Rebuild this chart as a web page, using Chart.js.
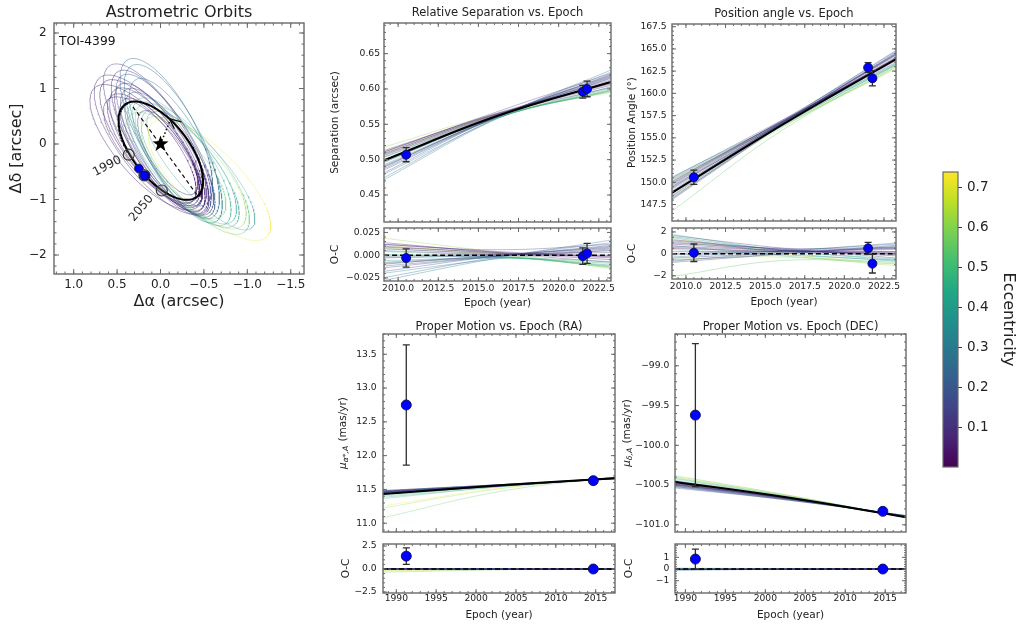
<!DOCTYPE html>
<html>
<head>
<meta charset="utf-8">
<title>TOI-4399 astrometric orbit fit</title>
<script src="https://cdn.jsdelivr.net/npm/chart.js@4.4.1/dist/chart.umd.min.js"></script>
<style>
  html, body { margin: 0; padding: 0; background: #ffffff; }
  #wrap { position: relative; width: 1023px; height: 630px; overflow: hidden; background: #ffffff; }
  #wrap canvas { position: absolute; left: 0; top: 0; }
</style>
</head>
<body>
<div id="wrap"></div>
<script>
// ---------------- data ----------------
// eccentricity of each posterior draw (sets its colour)
const SAMPLE_ECC = [0.10, 0.06, 0.14, 0.24, 0.09, 0.04, 0.17, 0.12, 0.28, 0.07, 0.15, 0.05, 0.33,
                    0.11, 0.13, 0.20, 0.08, 0.40, 0.50, 0.45, 0.55, 0.36, 0.42, 0.73, 0.62];
const ECC_MIN = 0.0, ECC_MAX = 0.74;
const ECC_TICKS = [0.1, 0.2, 0.3, 0.4, 0.5, 0.6, 0.7];

// projected orbits: ends of the long axis (Δα, Δδ) and half width [arcsec]
const ORBIT_SAMPLES = [
  [0.700, 1.195, -0.488, -1.220, 0.559], [0.758, 1.014, -0.430, -1.130, 0.541],
  [0.585, 1.411, -0.511, -1.256, 0.541], [0.377, 1.519, -0.511, -1.094, 0.523],
  [0.492, 1.303, -0.453, -1.184, 0.505], [0.642, 1.123, -0.395, -1.076, 0.486],
  [0.446, 1.231, -0.546, -1.256, 0.486], [0.527, 0.978, -0.419, -1.112, 0.468],
  [0.331, 1.411, -0.592, -1.328, 0.523], [0.469, 1.068, -0.453, -1.202, 0.450],
  [0.400, 0.978, -0.499, -1.238, 0.450], [0.562, 0.870, -0.361, -1.040, 0.432],
  [0.285, 1.159, -0.638, -1.400, 0.486], [0.423, 0.798, -0.430, -1.094, 0.396],
  [0.216, 0.582, -0.384, -0.895, 0.324], [0.354, 0.906, -0.569, -1.292, 0.450],
  [0.608, 0.798, -0.396, -1.004, 0.468], [0.331, 0.726, -0.857, -1.454, 0.505],
  [0.239, 0.690, -0.972, -1.580, 0.523], [0.170, 0.582, -0.822, -1.400, 0.468],
  [0.354, 0.510, -0.707, -1.292, 0.486], [0.123, 0.546, -1.053, -1.508, 0.432],
  [0.262, 0.798, -0.753, -1.436, 0.486], [0.100, 0.366, -1.226, -1.670, 0.541],
  [0.170, 0.438, -0.938, -1.472, 0.505]
];
const BEST_ORBIT = [0.412, 0.708, -0.419, -0.950, 0.505];
const APSIDES = [[0.318, 0.670], [-0.419, -0.913]];
const NODE_LINE = [[0.0, 0.0], [-0.114, 0.436]];
const EPOCH_MARKS = [[0.366, -0.193], [0.185, -0.565], [-0.015, -0.838]];
const EPOCH_LABELS = ['1990', '2050'];
const TARGET = 'TOI-4399';

// relative astrometry
const REL_EPOCHS = [2010.5, 2021.5, 2021.77];
const SEP_VALUES = [0.507, 0.596, 0.600];
const SEP_ERRORS = [0.010, 0.009, 0.011];
const SEP_OC = [-0.003, -0.001, 0.002];
const PA_VALUES = [150.57, 162.9, 161.7];
const PA_ERRORS = [0.8, 0.55, 0.85];
const PA_OC = [0.1, 0.5, -0.9];

// model curves sampled at three epochs
const REL_MODEL_EPOCHS = [2009.0, 2016.2, 2023.4];
const SEP_BEST = [0.498, 0.562, 0.611];
const SEP_SAMPLES = [
  [0.490, 0.561, 0.618], [0.505, 0.564, 0.610], [0.484, 0.561, 0.622], [0.473, 0.560, 0.625],
  [0.495, 0.562, 0.616], [0.510, 0.566, 0.609], [0.480, 0.561, 0.620], [0.510, 0.568, 0.623],
  [0.470, 0.559, 0.628], [0.497, 0.563, 0.614], [0.488, 0.562, 0.619], [0.512, 0.565, 0.606],
  [0.478, 0.558, 0.617], [0.503, 0.563, 0.611], [0.508, 0.564, 0.603], [0.486, 0.561, 0.621],
  [0.507, 0.565, 0.608], [0.496, 0.560, 0.600], [0.502, 0.561, 0.598], [0.492, 0.559, 0.602],
  [0.506, 0.562, 0.597], [0.489, 0.559, 0.604], [0.499, 0.560, 0.599], [0.509, 0.563, 0.598],
  [0.517, 0.565, 0.596]
];
const PA_BEST = [148.7, 156.6, 164.0];
const PA_SAMPLES = [
  [148.3, 156.7, 164.6], [149.2, 156.8, 164.2], [147.9, 156.6, 164.8], [148.0, 156.8, 165.0],
  [148.9, 156.8, 164.4], [149.6, 156.9, 164.0], [148.1, 156.6, 164.7], [149.7, 157.1, 164.6],
  [148.4, 156.9, 164.9], [149.4, 156.9, 164.1], [148.6, 156.8, 164.5], [150.0, 157.0, 163.8],
  [149.8, 156.9, 164.0], [149.3, 156.8, 164.2], [150.4, 157.1, 163.6], [148.7, 156.9, 164.5],
  [149.9, 157.0, 163.9], [150.2, 156.7, 163.3], [149.5, 156.4, 163.2], [150.5, 156.9, 163.4],
  [146.6, 156.0, 163.1], [150.3, 156.9, 163.5], [149.1, 156.5, 163.4], [150.1, 156.6, 163.0],
  [148.2, 156.3, 162.9]
];

// Hipparcos-Gaia proper motions
const PM_EPOCHS = [1991.25, 2014.7];
const PMRA_VALUES = [12.75, 11.63];
const PMRA_ERRORS = [0.89, 0.02];
const PMRA_OC = [1.4, 0.0];
const PMRA_OC_ERRORS = [0.89, 0.02];
const PMDEC_VALUES = [-99.62, -100.83];
const PMDEC_ERRORS = [0.90, 0.02];
const PMDEC_OC = [0.85, 0.0];
const PMDEC_OC_ERRORS = [0.85, 0.02];

const PM_MODEL_EPOCHS = [1988.0, 2003.0, 2018.0];
const PMRA_BEST = [11.43, 11.56, 11.67];
const PMRA_SAMPLES = [
  [11.46, 11.56, 11.67], [11.47, 11.57, 11.66], [11.45, 11.56, 11.68], [11.48, 11.57, 11.66],
  [11.46, 11.56, 11.67], [11.45, 11.55, 11.67], [11.47, 11.57, 11.67], [11.44, 11.55, 11.68],
  [11.48, 11.57, 11.66], [11.46, 11.56, 11.67], [11.47, 11.56, 11.67], [11.43, 11.55, 11.68],
  [11.47, 11.56, 11.66], [11.45, 11.56, 11.67], [11.46, 11.56, 11.67], [11.48, 11.57, 11.66],
  [11.45, 11.55, 11.67], [11.42, 11.55, 11.67], [11.36, 11.54, 11.68], [11.40, 11.55, 11.67],
  [11.07, 11.47, 11.69], [11.44, 11.55, 11.67], [11.38, 11.54, 11.68], [11.25, 11.52, 11.69],
  [11.22, 11.51, 11.68]
];
const PMDEC_BEST = [-100.45, -100.66, -100.91];
const PMDEC_SAMPLES = [
  [-100.47, -100.67, -100.90], [-100.49, -100.68, -100.90], [-100.46, -100.66, -100.91],
  [-100.50, -100.68, -100.89], [-100.48, -100.67, -100.90], [-100.51, -100.69, -100.89],
  [-100.47, -100.67, -100.91], [-100.49, -100.67, -100.90], [-100.52, -100.69, -100.89],
  [-100.48, -100.67, -100.90], [-100.50, -100.68, -100.90], [-100.46, -100.66, -100.91],
  [-100.51, -100.68, -100.89], [-100.47, -100.67, -100.90], [-100.49, -100.67, -100.90],
  [-100.53, -100.69, -100.89], [-100.48, -100.67, -100.91], [-100.43, -100.65, -100.90],
  [-100.40, -100.64, -100.91], [-100.44, -100.66, -100.90], [-100.37, -100.63, -100.92],
  [-100.45, -100.66, -100.90], [-100.41, -100.65, -100.91], [-100.38, -100.63, -100.92],
  [-100.39, -100.64, -100.91]
];

// tick labels
const ORBIT_X_TICKS = [1.0, 0.5, 0.0, -0.5, -1.0, -1.5];
const ORBIT_Y_TICKS = [-2, -1, 0, 1, 2];
const REL_EPOCH_TICKS = [2010.0, 2012.5, 2015.0, 2017.5, 2020.0, 2022.5];
const SEP_TICKS = [0.45, 0.50, 0.55, 0.60, 0.65];
const SEP_OC_TICKS = [-0.025, 0.0, 0.025];
const PA_TICKS = [147.5, 150.0, 152.5, 155.0, 157.5, 160.0, 162.5, 165.0, 167.5];
const PA_OC_TICKS = [-2, 0, 2];
const PM_EPOCH_TICKS = [1990, 1995, 2000, 2005, 2010, 2015];
const PMRA_TICKS = [11.0, 11.5, 12.0, 12.5, 13.0, 13.5];
const PMRA_OC_TICKS = [-2.5, 0.0, 2.5];
const PMDEC_TICKS = [-101.0, -100.5, -100.0, -99.5, -99.0];
const PMDEC_OC_TICKS = [-1, 0, 1];

// ---------------- helpers ----------------
const CW = 1023, CH = 630;
const FONT = "'DejaVu Sans', 'Liberation Sans', sans-serif";
const INK = '#222222';
const FRAME = '#6a6a6a';
const wrap = document.getElementById('wrap');

const VIRIDIS = ['#440154', '#482475', '#414487', '#355f8d', '#2a788e', '#21918c',
                 '#22a884', '#44bf70', '#7ad151', '#bddf26', '#fde725'];
function hexRgb(h) { return [1, 3, 5].map(i => parseInt(h.slice(i, i + 2), 16)); }
function viridis(t, alpha) {
  t = Math.max(0, Math.min(1, t));
  const s = t * 10, i = Math.min(9, Math.floor(s)), f = s - i;
  const a = hexRgb(VIRIDIS[i]), b = hexRgb(VIRIDIS[i + 1]);
  const c = a.map((v, k) => Math.round(v + (b[k] - v) * f));
  return `rgba(${c[0]},${c[1]},${c[2]},${alpha})`;
}
const eccColor = (e, alpha) => viridis((e - ECC_MIN) / (ECC_MAX - ECC_MIN), alpha);

const minus = s => s.replace('-', '\u2212');
const fmt = d => v => minus(Number(v).toFixed(d));

function stepsIn(min, max, step) {
  const out = [];
  for (let k = Math.ceil(min / step - 1e-6); k * step <= max + 1e-9; k++) out.push(k * step);
  return out;
}

function newCanvas() {
  const c = document.createElement('canvas');
  c.width = CW; c.height = CH;
  c.style.width = CW + 'px'; c.style.height = CH + 'px';
  wrap.appendChild(c);
  return c;
}

function curve(epochs, vals, color, width, order, dash) {
  return {
    data: epochs.map((x, k) => ({ x, y: vals[k] })),
    showLine: true, pointRadius: 0, borderColor: color, borderWidth: width,
    borderDash: dash || [], tension: 0.4, fill: false, order
  };
}
function markers(xs, ys, errs, radius) {
  return {
    data: xs.map((x, k) => ({ x, y: ys[k] })), errors: errs,
    showLine: false, pointRadius: radius, pointBackgroundColor: '#0000ff',
    pointBorderColor: '#10104a', pointBorderWidth: 0.9, order: 0
  };
}
function drawStar(ctx, x, y, R, r) {
  ctx.beginPath();
  for (let k = 0; k < 10; k++) {
    const ang = -Math.PI / 2 + k * Math.PI / 5, rad = k % 2 ? r : R;
    ctx.lineTo(x + rad * Math.cos(ang), y + rad * Math.sin(ang));
  }
  ctx.closePath(); ctx.fill();
}

// frame, inward ticks on four sides and the panel title
function framePlugin(p) {
  return {
    id: 'frame',
    afterDraw(chart) {
      const { ctx, chartArea: a, scales } = chart;
      const xs = scales.x, ys = scales.y;
      ctx.save();
      ctx.strokeStyle = FRAME; ctx.lineWidth = 1;
      const seg = (x1, y1, x2, y2) => { ctx.beginPath(); ctx.moveTo(x1, y1); ctx.lineTo(x2, y2); ctx.stroke(); };
      const xt = (vals, len) => vals.forEach(v => {
        const q = xs.getPixelForValue(v);
        if (q < a.left - 0.5 || q > a.right + 0.5) return;
        seg(q, a.top, q, a.top + len); seg(q, a.bottom, q, a.bottom - len);
      });
      const yt = (vals, len) => vals.forEach(v => {
        const q = ys.getPixelForValue(v);
        if (q < a.top - 0.5 || q > a.bottom + 0.5) return;
        seg(a.left, q, a.left + len, q); seg(a.right, q, a.right - len, q);
      });
      xt(stepsIn(xs.min, xs.max, p.xMinor), p.minorLen);
      yt(stepsIn(ys.min, ys.max, p.yMinor), p.minorLen);
      xt(p.xMajor, p.majorLen); yt(p.yMajor, p.majorLen);
      ctx.lineWidth = 1.4;
      ctx.strokeRect(a.left, a.top, a.right - a.left, a.bottom - a.top);
      if (p.title) {
        ctx.fillStyle = INK; ctx.font = `${p.titleSize}px ${FONT}`;
        ctx.textAlign = 'center'; ctx.textBaseline = 'middle';
        ctx.fillText(p.title, (a.left + a.right) / 2, p.titleY);
      }
      ctx.restore();
    }
  };
}

// vertical error bars with caps, drawn under the markers
const errorBarPlugin = {
  id: 'errbars',
  beforeDatasetDraw(chart, args) {
    const ds = chart.data.datasets[args.index];
    if (!ds.errors) return;
    const { ctx } = chart, xs = chart.scales.x, ys = chart.scales.y;
    ctx.save();
    ctx.strokeStyle = '#2e2e2e'; ctx.lineWidth = 1.3;
    ds.data.forEach((pt, i) => {
      const e = ds.errors[i];
      const px = xs.getPixelForValue(pt.x);
      const y1 = ys.getPixelForValue(pt.y - e), y2 = ys.getPixelForValue(pt.y + e);
      ctx.beginPath();
      ctx.moveTo(px, y1); ctx.lineTo(px, y2);
      ctx.moveTo(px - 3.5, y1); ctx.lineTo(px + 3.5, y1);
      ctx.moveTo(px - 3.5, y2); ctx.lineTo(px + 3.5, y2);
      ctx.stroke();
    });
    ctx.restore();
  }
};

// generic panel: fixed plot rectangle, library axes for the tick labels
function panel(c) {
  const a = c.area;
  const showX = !!c.xLabels;
  const yw = c.yw || 56, xh = showX ? (c.xh || 30) : 0;
  const tf = c.tickSize || 9.2;
  const xTitleSize = c.xTitleSize || 10.5, yTitleSize = c.yTitleSize || 10.5;
  const plugins = [framePlugin({
    xMajor: c.xTicks, yMajor: c.yTicks, xMinor: c.xMinor, yMinor: c.yMinor,
    majorLen: c.majorLen || 4, minorLen: c.minorLen || 2,
    title: c.title, titleSize: c.titleSize || 11.5, titleY: c.titleY
  }), errorBarPlugin].concat(c.extra || []);
  return new Chart(newCanvas(), {
    type: 'scatter',
    data: { datasets: c.datasets },
    plugins,
    options: {
      responsive: false, animation: false, devicePixelRatio: 1,
      layout: { padding: { left: a.left - yw, top: a.top, right: CW - a.right, bottom: CH - a.bottom - xh } },
      scales: {
        x: {
          type: 'linear', min: c.xRange[0], max: c.xRange[1], reverse: !!c.xReverse, display: showX,
          grid: { display: false, drawTicks: false }, border: { display: false },
          ticks: {
            autoSkip: false, maxRotation: 0, minRotation: 0, color: INK,
            padding: c.xTickPad != null ? c.xTickPad : 2.3,
            font: { family: FONT, size: tf }, callback: v => c.xFmt(v)
          },
          afterBuildTicks: s => { s.ticks = c.xTicks.map(v => ({ value: v })); },
          afterFit: s => { s.height = xh; },
          title: {
            display: showX && !!c.xTitle, text: c.xTitle, color: INK,
            font: { family: FONT, size: xTitleSize },
            padding: { top: 0, bottom: (a.bottom + xh) - c.xTitleY - xTitleSize * 0.6 }
          }
        },
        y: {
          type: 'linear', min: c.yRange[0], max: c.yRange[1],
          grid: { display: false, drawTicks: false }, border: { display: false },
          ticks: {
            autoSkip: false, color: INK, padding: c.yTickPad != null ? c.yTickPad : 4,
            font: { family: FONT, size: tf }, callback: v => c.yFmt(v)
          },
          afterBuildTicks: s => { s.ticks = c.yTicks.map(v => ({ value: v })); },
          afterFit: s => { s.width = yw; },
          title: {
            display: !!c.yTitle, text: c.yTitle, color: INK,
            font: { family: FONT, size: yTitleSize },
            padding: { top: c.yTitleX - (a.left - yw) - yTitleSize * 0.6, bottom: 0 }
          }
        }
      },
      plugins: { legend: { display: false }, tooltip: { enabled: false }, title: { display: false } }
    }
  });
}

// ------------- orbit panel -------------
const ORBIT_AREA = { left: 54, top: 23, right: 304, bottom: 274 };
const ORBIT_XR = [-1.653, 1.227], ORBIT_YR = [-2.342, 2.18];
const KX = (ORBIT_AREA.right - ORBIT_AREA.left) / (ORBIT_XR[1] - ORBIT_XR[0]);
const KY = (ORBIT_AREA.bottom - ORBIT_AREA.top) / (ORBIT_YR[1] - ORBIT_YR[0]);

// trace an ellipse given by its long-axis ends and half width (in plotted proportions)
function ellipse([x1, y1, x2, y2, w]) {
  const u1 = x1 * KX, v1 = y1 * KY, u2 = x2 * KX, v2 = y2 * KY;
  const cu = (u1 + u2) / 2, cv = (v1 + v2) / 2, au = (u1 - u2) / 2, av = (v1 - v2) / 2;
  const L = Math.hypot(au, av), bu = -av / L * w * KY, bv = au / L * w * KY;
  const pts = [];
  for (let k = 0; k <= 200; k++) {
    const t = 2 * Math.PI * k / 200;
    pts.push({ x: (cu + au * Math.cos(t) + bu * Math.sin(t)) / KX,
               y: (cv + av * Math.cos(t) + bv * Math.sin(t)) / KY });
  }
  return pts;
}
const seg2 = arr => arr.map(([x, y]) => ({ x, y }));
const rad = Math.PI / 180;
// observed offsets from separation and position angle
const OBS_RA = SEP_VALUES.map((s, i) => s * Math.sin(PA_VALUES[i] * rad));
const OBS_DEC = SEP_VALUES.map((s, i) => s * Math.cos(PA_VALUES[i] * rad));

const orbitSets = [
  { data: OBS_RA.map((x, i) => ({ x, y: OBS_DEC[i] })), showLine: false, pointRadius: 4.3,
    pointBackgroundColor: '#0000ff', pointBorderColor: '#10104a', pointBorderWidth: 0.9, order: 0 },
  { data: seg2(EPOCH_MARKS), showLine: false, pointRadius: 5.5, pointBackgroundColor: 'rgba(150,150,150,0.25)',
    pointBorderColor: '#3a3a3a', pointBorderWidth: 1.2, order: 1 },
  { data: seg2(APSIDES), showLine: true, pointRadius: 0, borderColor: '#111', borderWidth: 1.2,
    borderDash: [4, 3], order: 2 },
  { data: seg2(NODE_LINE), showLine: true, pointRadius: 0, borderColor: '#111', borderWidth: 1.6,
    borderDash: [1.5, 2.2], order: 2 },
  { data: ellipse(BEST_ORBIT), showLine: true, pointRadius: 0, borderColor: '#000', borderWidth: 2, order: 3 }
].concat(ORBIT_SAMPLES.map((s, i) => ({
  data: ellipse(s), showLine: true, pointRadius: 0,
  borderColor: eccColor(SAMPLE_ECC[i], SAMPLE_ECC[i] > 0.35 ? 0.32 : 0.45),
  borderWidth: 1, order: 4
})));

const orbitDecor = {
  id: 'orbitDecor',
  afterDatasetsDraw(chart) {
    const { ctx, chartArea: a } = chart, xs = chart.scales.x, ys = chart.scales.y;
    ctx.save();
    // direction-of-motion arrow at the node
    const nx = xs.getPixelForValue(NODE_LINE[1][0]), ny = ys.getPixelForValue(NODE_LINE[1][1]);
    ctx.strokeStyle = '#111'; ctx.lineWidth = 1.3;
    ctx.beginPath();
    ctx.moveTo(nx + 11, ny + 2); ctx.lineTo(nx - 1, ny - 1); ctx.lineTo(nx + 4, ny + 9);
    ctx.stroke();
    // host star
    ctx.fillStyle = '#000';
    drawStar(ctx, xs.getPixelForValue(0), ys.getPixelForValue(0), 8.5, 3.4);
    // epoch labels
    ctx.fillStyle = '#2a2a2a'; ctx.font = `12px ${FONT}`;
    ctx.textAlign = 'center'; ctx.textBaseline = 'middle';
    const lab = (txt, x, y, ang) => {
      ctx.save(); ctx.translate(xs.getPixelForValue(x), ys.getPixelForValue(y));
      ctx.rotate(ang * rad); ctx.fillText(txt, 0, 0); ctx.restore();
    };
    lab(EPOCH_LABELS[0], 0.614, -0.40, -28);
    lab(EPOCH_LABELS[1], 0.221, -1.157, -50);
    // target name
    ctx.fillStyle = '#111'; ctx.textAlign = 'left'; ctx.font = `12.3px ${FONT}`;
    ctx.fillText(TARGET, a.left + 5, a.top + 19);
    ctx.restore();
  }
};

panel({
  area: ORBIT_AREA, xRange: ORBIT_XR, yRange: ORBIT_YR, xReverse: true, yw: 54, xh: 38,
  xTicks: ORBIT_X_TICKS, yTicks: ORBIT_Y_TICKS, xMinor: 0.1, yMinor: 0.2,
  xFmt: fmt(1), yFmt: fmt(0), xLabels: true, tickSize: 12, xTickPad: 3.6, yTickPad: 7.3,
  majorLen: 5, minorLen: 2.5,
  xTitle: '\u0394\u03b1 (arcsec)', xTitleSize: 16, xTitleY: 301.7,
  yTitle: '\u0394\u03b4 [arcsec]', yTitleSize: 16, yTitleX: 16.7,
  title: 'Astrometric Orbits', titleSize: 16, titleY: 12.5,
  datasets: orbitSets, extra: [orbitDecor]
});

// ------------- time-series panels -------------
const diff = (a, b) => a.map((v, k) => v - b[k]);
function modelSets(epochs, best, samples, alpha) {
  return [curve(epochs, best, '#000000', 2, 1)].concat(
    samples.map((s, i) => curve(epochs, s, eccColor(SAMPLE_ECC[i], alpha), 1, 3)));
}
function residualSets(epochs, best, samples, range, alpha) {
  return [curve([range[0], range[1]], [0, 0], '#000000', 1.5, 1, [5, 3])].concat(
    samples.map((s, i) => curve(epochs, diff(s, best), eccColor(SAMPLE_ECC[i], alpha), 1, 3)));
}

const REL_XR = [2009.12, 2023.26];
const PMRA_XR = [1988.33, 2017.42];
const PMDEC_XR = [1988.7, 2017.6];

panel({
  area: { left: 384, top: 23, right: 611, bottom: 222 }, xRange: REL_XR, yRange: [0.4118, 0.6933],
  xTicks: REL_EPOCH_TICKS, yTicks: SEP_TICKS, xMinor: 0.5, yMinor: 0.01, xFmt: fmt(1), yFmt: fmt(2),
  yTitle: 'Separation (arcsec)', yTitleX: 335, title: 'Relative Separation vs. Epoch', titleY: 13.5,
  datasets: [markers(REL_EPOCHS, SEP_VALUES, SEP_ERRORS, 4.5)].concat(modelSets(REL_MODEL_EPOCHS, SEP_BEST, SEP_SAMPLES, 0.35))
});
panel({
  area: { left: 384, top: 228, right: 611, bottom: 281 }, xRange: REL_XR, yRange: [-0.0283, 0.0299],
  xTicks: REL_EPOCH_TICKS, yTicks: SEP_OC_TICKS, xMinor: 0.5, yMinor: 0.005, xFmt: fmt(1), yFmt: fmt(3),
  xLabels: true, xTitle: 'Epoch (year)', xTitleY: 303, yTitle: 'O-C', yTitleX: 335,
  datasets: [markers(REL_EPOCHS, SEP_OC, SEP_ERRORS, 4.5)].concat(residualSets(REL_MODEL_EPOCHS, SEP_BEST, SEP_SAMPLES, REL_XR, 0.35))
});
panel({
  area: { left: 672, top: 24, right: 896, bottom: 221 }, xRange: REL_XR, yRange: [145.65, 167.8],
  xTicks: REL_EPOCH_TICKS, yTicks: PA_TICKS, xMinor: 0.5, yMinor: 0.5, xFmt: fmt(1), yFmt: fmt(1), yTickPad: 5.3,
  yTitle: 'Position Angle (\u00b0)', yTitleX: 632, title: 'Position angle vs. Epoch', titleY: 14.5,
  datasets: [markers(REL_EPOCHS, PA_VALUES, PA_ERRORS, 4.5)].concat(modelSets(REL_MODEL_EPOCHS, PA_BEST, PA_SAMPLES, 0.35))
});
panel({
  area: { left: 672, top: 228, right: 896, bottom: 279 }, xRange: REL_XR, yRange: [-2.30, 2.36],
  xTicks: REL_EPOCH_TICKS, yTicks: PA_OC_TICKS, xMinor: 0.5, yMinor: 0.5, xFmt: fmt(1), yFmt: fmt(0), yTickPad: 5.3,
  xLabels: true, xTitle: 'Epoch (year)', xTitleY: 302, yTitle: 'O-C', yTitleX: 632,
  datasets: [markers(REL_EPOCHS, PA_OC, PA_ERRORS, 4.5)].concat(residualSets(REL_MODEL_EPOCHS, PA_BEST, PA_SAMPLES, REL_XR, 0.35))
});

// y label with a mathtext-style subscript
function pmLabel(sub, cx) {
  return {
    id: 'pmLabel',
    afterDraw(chart) {
      const { ctx, chartArea: a } = chart;
      const main = `italic 10.5px ${FONT}`, small = `italic 7.6px ${FONT}`, plain = `10.5px ${FONT}`;
      ctx.save();
      ctx.font = main; const w1 = ctx.measureText('\u03bc').width;
      ctx.font = small; const w2 = ctx.measureText(sub).width;
      ctx.font = plain; const w3 = ctx.measureText(' (mas/yr)').width;
      ctx.translate(cx, (a.top + a.bottom) / 2); ctx.rotate(-Math.PI / 2);
      ctx.fillStyle = INK; ctx.textBaseline = 'middle'; ctx.textAlign = 'left';
      let x = -(w1 + w2 + w3 + 1) / 2;
      ctx.font = main; ctx.fillText('\u03bc', x, 0); x += w1;
      ctx.font = small; ctx.fillText(sub, x, 3); x += w2 + 1;
      ctx.font = plain; ctx.fillText(' (mas/yr)', x, 0);
      ctx.restore();
    }
  };
}

panel({
  area: { left: 383, top: 334, right: 615, bottom: 532 }, xRange: PMRA_XR, yRange: [10.87, 13.8],
  xTicks: PM_EPOCH_TICKS, yTicks: PMRA_TICKS, xMinor: 1, yMinor: 0.1, xFmt: fmt(0), yFmt: fmt(1), yTickPad: 6.3,
  title: 'Proper Motion vs. Epoch (RA)', titleY: 327.5, extra: [pmLabel('\u03b1*,A', 343)],
  datasets: [markers(PM_EPOCHS, PMRA_VALUES, PMRA_ERRORS, 5)].concat(modelSets(PM_MODEL_EPOCHS, PMRA_BEST, PMRA_SAMPLES, 0.3))
});
panel({
  area: { left: 383, top: 544, right: 615, bottom: 593 }, xRange: PMRA_XR, yRange: [-2.61, 2.72],
  xTicks: PM_EPOCH_TICKS, yTicks: PMRA_OC_TICKS, xMinor: 1, yMinor: 0.5, xFmt: fmt(0), yFmt: fmt(1), yTickPad: 6.3,
  xLabels: true, xTickPad: 0.5, xTitle: 'Epoch (year)', xTitleY: 615, yTitle: 'O-C', yTitleX: 346,
  datasets: [markers(PM_EPOCHS, PMRA_OC, PMRA_OC_ERRORS, 5)].concat(residualSets(PM_MODEL_EPOCHS, PMRA_BEST, PMRA_SAMPLES, PMRA_XR, 0.3))
});
panel({
  area: { left: 675, top: 334, right: 906, bottom: 532 }, xRange: PMDEC_XR, yRange: [-101.09, -98.6],
  xTicks: PM_EPOCH_TICKS, yTicks: PMDEC_TICKS, xMinor: 1, yMinor: 0.1, xFmt: fmt(0), yFmt: fmt(1), yTickPad: 5.7,
  title: 'Proper Motion vs. Epoch (DEC)', titleY: 327.5, extra: [pmLabel('\u03b4,A', 627.5)],
  datasets: [markers(PM_EPOCHS, PMDEC_VALUES, PMDEC_ERRORS, 5)].concat(modelSets(PM_MODEL_EPOCHS, PMDEC_BEST, PMDEC_SAMPLES, 0.3))
});
panel({
  area: { left: 675, top: 544, right: 906, bottom: 593 }, xRange: PMDEC_XR, yRange: [-2.05, 2.14],
  xTicks: PM_EPOCH_TICKS, yTicks: PMDEC_OC_TICKS, xMinor: 1, yMinor: 0.2, xFmt: fmt(0), yFmt: fmt(0), yTickPad: 5.7,
  xLabels: true, xTickPad: 0.5, xTitle: 'Epoch (year)', xTitleY: 615, yTitle: 'O-C', yTitleX: 629,
  datasets: [markers(PM_EPOCHS, PMDEC_OC, PMDEC_OC_ERRORS, 5)].concat(residualSets(PM_MODEL_EPOCHS, PMDEC_BEST, PMDEC_SAMPLES, PMDEC_XR, 0.3))
});

// ------------- colour bar -------------
const CB = { left: 943, top: 172, right: 958, bottom: 467 };
const colorbarFill = {
  id: 'cbar',
  beforeDatasetsDraw(chart) {
    const { ctx, chartArea: a } = chart;
    const g = ctx.createLinearGradient(0, a.bottom, 0, a.top);
    VIRIDIS.forEach((c, k) => g.addColorStop(k / 10, c));
    ctx.save(); ctx.fillStyle = g;
    ctx.fillRect(a.left, a.top, a.right - a.left, a.bottom - a.top);
    ctx.strokeStyle = FRAME; ctx.lineWidth = 1.2;
    ctx.strokeRect(a.left, a.top, a.right - a.left, a.bottom - a.top);
    ctx.restore();
  }
};
new Chart(newCanvas(), {
  type: 'scatter',
  data: { datasets: [] },
  plugins: [colorbarFill],
  options: {
    responsive: false, animation: false, devicePixelRatio: 1,
    layout: { padding: { left: CB.left, top: CB.top, right: CW - CB.right - 60, bottom: CH - CB.bottom } },
    scales: {
      x: { type: 'linear', min: 0, max: 1, display: false },
      y: {
        type: 'linear', position: 'right', min: ECC_MIN, max: ECC_MAX,
        grid: { display: true, drawOnChartArea: false, drawTicks: true, tickLength: 4, color: '#333', lineWidth: 1 },
        border: { display: false },
        ticks: { autoSkip: false, padding: 5, color: INK, font: { family: FONT, size: 13.5 }, callback: v => fmt(1)(v) },
        afterBuildTicks: s => { s.ticks = ECC_TICKS.map(v => ({ value: v })); },
        afterFit: s => { s.width = 60; },
        title: { display: true, text: 'Eccentricity', color: INK, font: { family: FONT, size: 16 }, padding: { top: 0.4, bottom: 0 } }
      }
    },
    plugins: { legend: { display: false }, tooltip: { enabled: false } }
  }
});
</script>
</body>
</html>
